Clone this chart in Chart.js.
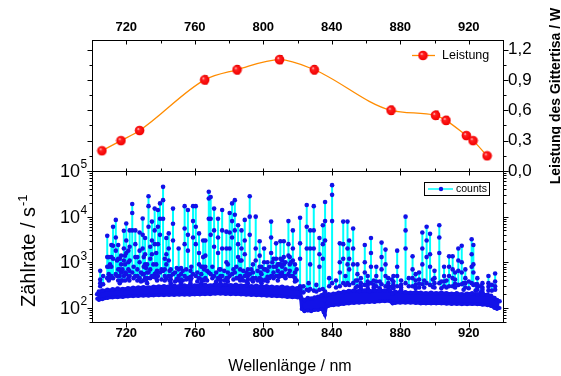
<!DOCTYPE html>
<html>
<head>
<meta charset="utf-8">
<script src="https://cdn.jsdelivr.net/npm/chart.js@4.4.1/dist/chart.umd.min.js"></script>
<style>
  html, body { margin: 0; padding: 0; background: #fff; }
  #wrap { position: relative; width: 561px; height: 376px; overflow: hidden; }
  #wrap canvas { position: absolute; left: 0; top: 0; }
</style>
</head>
<body>
<div id="wrap">
  <canvas id="powerChart" width="561" height="376"></canvas>
  <canvas id="countsChart" width="561" height="376"></canvas>
</div>
<script>
// --- upper panel: Leistung des Gittertisa ---
const powerNm  = [705.8, 716.9, 727.8, 765.8, 784.7, 809.5, 829.8, 874.6, 900.6, 906.7, 918.6, 922.5, 930.7];
const powerW   = [0.20, 0.30, 0.40, 0.90, 1.00, 1.10, 1.00, 0.60, 0.55, 0.50, 0.35, 0.30, 0.15];
const powerErr = [0.02, 0.02, 0.02, 0.04, 0.04, 0.04, 0.04, 0.04, 0.04, 0.04, 0.02, 0.02, 0.02];

// --- lower panel: counts spectrum, lines ---
const peakNm = [
  704.8, 708.9, 709.8, 711.3, 712.3, 713.9, 715.3, 716.2, 717.0, 718.6,
  719.3, 720.0, 721.2, 722.0, 723.5, 725.3, 726.5, 727.8, 729.6, 730.2,
  731.0, 732.2, 733.0, 734.0, 735.0, 736.6, 737.5, 738.5, 739.7, 741.5,
  742.5, 743.4, 744.8, 746.0, 747.3, 750.6, 752.0, 754.1, 756.0, 757.5,
  759.0, 760.6, 762.5, 763.8, 764.9, 766.2, 768.2, 769.3, 771.3, 773.6,
  775.0, 776.0, 778.5, 779.3, 780.4, 781.8, 783.4, 785.3, 786.5, 787.3,
  789.2, 791.0, 792.1, 794.0, 795.6, 797.9, 799.0, 800.5, 802.5, 804.6,
  806.0, 807.5, 808.5, 810.0, 811.0, 812.0, 813.0, 814.7, 815.5, 817.3,
  818.5, 821.5, 825.4, 827.4, 829.5, 832.8, 834.8, 836.1, 840.2, 844.7,
  846.7, 849.2, 850.2, 852.5, 855.0, 857.0, 859.3, 861.0, 862.9, 864.5,
  866.0, 869.1, 871.4, 873.0, 876.0, 878.2, 880.5, 883.1, 887.2, 889.0,
  891.0, 892.9, 895.4, 897.4, 900.0, 902.8, 905.6, 908.5, 910.6, 912.0,
  913.9, 915.9, 918.0, 921.7, 922.7, 925.0, 928.0, 931.5, 935.4
];
const peakTop = [
  650, 3800, 1300, 2400, 6000, 8500, 2400, 1200, 1400, 4900,
  1400, 7100, 1800, 5000, 19000, 5000, 1300, 4500, 9100, 1300,
  3400, 900, 28000, 2200, 7800, 15000, 1600, 14000, 19500, 45000,
  1200, 3400, 4300, 700, 15000, 2000, 750, 17000, 14000, 650,
  17000, 17000, 4300, 800, 3000, 3000, 35000, 27000, 15000, 9000,
  700, 14000, 4700, 900, 12000, 19500, 23000, 6500, 1100, 5000,
  8500, 700, 28000, 900, 10000, 2900, 800, 2000, 1000, 7800,
  1200, 2600, 900, 2900, 1100, 2900, 1000, 8000, 1300, 5000,
  900, 9500, 18000, 5000, 17000, 3400, 6500, 21000, 49000, 2600,
  7800, 7800, 3000, 5500, 900, 450, 2400, 500, 3400, 400,
  800, 2700, 1900, 450, 500, 1800, 400, 10000, 1350, 550,
  600, 4500, 6000, 4200, 650, 6500, 800, 1350, 1350, 600,
  2000, 2300, 700, 3200, 2400, 450, 350, 500, 570
];
const peakMid = [
  420, 1300, 800, 1300, 2300, 3500, 1200, 700, 900, 2000,
  900, 3000, 1000, 2200, 12000, 2500, 700, 1800, 4000, 800,
  1500, 600, 17000, 1200, 3000, 5000, 900, 6000, 9000, 23000,
  700, 1500, 2000, 500, 7000, 700, 550, 5500, 4000, 480,
  8000, 6000, 1600, 550, 1300, 1400, 25000, 9000, 5000, 3500,
  500, 5000, 2000, 600, 4500, 8000, 11000, 2500, 700, 2000,
  3000, 500, 10000, 600, 2000, 1400, 550, 1000, 650, 3500,
  800, 1200, 650, 1200, 800, 1300, 700, 2500, 900, 2000,
  600, 2600, 6000, 2000, 5000, 1500, 2500, 8000, 30000, 1000,
  2500, 2000, 1200, 2000, 550, 350, 1000, 380, 1600, 320,
  500, 1300, 900, 350, 380, 800, 320, 5000, 700, 400,
  420, 2000, 3000, 1500, 450, 3500, 500, 800, 700, 420,
  1100, 1000, 450, 1500, 900, 330, 280, 350, 380
];
const peakMid2 = [
  350, 800, 550, 800, 1200, 1800, 700, 500, 600, 1100,
  600, 1600, 700, 1100, 5000, 1300, 500, 1000, 2000, 550,
  900, 450, 6000, 700, 1500, 2500, 600, 2500, 4000, 9000,
  500, 900, 1100, 420, 3000, 500, 420, 2500, 1800, 400,
  3500, 2500, 900, 420, 800, 800, 9000, 4000, 2200, 1600,
  420, 2000, 1000, 450, 2000, 3500, 5000, 1300, 500, 1100,
  1500, 420, 4000, 450, 1100, 800, 420, 700, 480, 1600,
  600, 800, 500, 900, 600, 900, 500, 1400, 650, 1100,
  450, 1200, 2000, 900, 2000, 800, 1200, 3000, 8000, 600,
  1200, 900, 700, 900, 400, 300, 600, 320, 800, 280,
  380, 700, 500, 300, 320, 500, 280, 2000, 450, 320,
  340, 900, 1300, 800, 350, 1600, 380, 500, 450, 340,
  650, 600, 350, 800, 600, 290, 250, 290, 300
];
const peakLow = [
  300, 450, 400, 500, 450, 550, 400, 350, 400, 500,
  400, 550, 450, 500, 600, 500, 400, 450, 550, 400,
  450, 350, 600, 450, 500, 550, 450, 500, 600, 650,
  400, 450, 500, 350, 550, 400, 350, 500, 450, 350,
  550, 500, 450, 350, 400, 450, 600, 550, 500, 450,
  350, 500, 450, 380, 500, 550, 600, 450, 400, 450,
  500, 350, 550, 380, 450, 450, 350, 400, 380, 500,
  450, 500, 400, 550, 500, 500, 450, 550, 500, 500,
  380, 300, 250, 260, 240, 250, 260, 230, 350, 300,
  350, 350, 320, 350, 300, 260, 320, 270, 350, 250,
  300, 330, 300, 260, 270, 300, 250, 350, 300, 270,
  280, 330, 350, 320, 280, 350, 300, 300, 300, 280,
  320, 330, 280, 350, 320, 250, 220, 240, 250
];

// small bumps just above the noise floor
const bumpNm = [
  706.5, 710.5, 714.6, 717.8, 721.8, 724.3, 728.6, 731.6, 735.8, 738.0,
  740.6, 745.3, 748.5, 749.5, 753.0, 755.0, 758.0, 761.5, 765.5, 767.2,
  770.3, 772.5, 774.3, 777.2, 782.6, 784.3, 788.3, 790.2, 793.0, 796.7,
  798.5, 801.5, 803.5, 805.3, 809.2, 816.2, 819.5, 823.5, 826.5, 831.0,
  838.5, 842.5, 848.0, 854.0, 868.0, 875.0, 885.0, 894.0, 899.0, 904.0,
  907.0, 917.0, 920.0, 924.0, 927.0, 933.5
];
const bumpTop = [
  500, 900, 1100, 700, 650, 800, 600, 750, 900, 650,
  700, 650, 600, 750, 650, 700, 800, 600, 700, 650,
  800, 600, 700, 650, 700, 800, 650, 600, 700, 650,
  600, 700, 800, 1000, 900, 1000, 700, 300, 350, 320,
  450, 400, 500, 400, 380, 420, 450, 400, 420, 380,
  400, 350, 380, 330, 300, 320
];
const bumpLow = [
  330, 450, 500, 400, 400, 450, 380, 420, 480, 400,
  420, 400, 380, 430, 400, 420, 450, 380, 420, 400,
  450, 380, 420, 400, 420, 450, 400, 380, 420, 400,
  380, 420, 450, 500, 480, 500, 400, 220, 240, 230,
  300, 280, 320, 280, 270, 290, 300, 280, 290, 270,
  280, 250, 270, 240, 220, 240
];

// noise floor: lower and upper edge of the dense band
const baseNm = [
  703, 704, 706, 709, 712, 715, 718, 721, 724, 727,
  730, 733, 736, 739, 742, 745, 748, 751, 754, 757,
  760, 763, 766, 769, 772, 775, 778, 781, 784, 787,
  790, 793, 796, 799, 802, 805, 808, 811, 814, 817,
  820, 821.8, 822.4, 824, 826, 828, 830, 832, 834, 835.3,
  836, 836.8, 838, 841, 844, 847, 850, 853, 856, 859,
  862, 865, 868, 871, 874, 875.5, 877, 880, 883, 886,
  889, 892, 895, 898, 901, 904, 907, 910, 913, 916,
  919, 922, 925, 928, 931, 933, 935, 936.5, 938
];
const baseLow = [
  160, 150, 155, 165, 170, 172, 175, 178, 180, 182,
  185, 185, 188, 190, 190, 192, 192, 195, 195, 195,
  198, 198, 200, 200, 205, 205, 202, 200, 200, 198,
  195, 192, 190, 188, 185, 182, 180, 178, 175, 172,
  170, 165, 95, 85, 88, 85, 90, 90, 95, 80,
  70, 105, 110, 115, 118, 122, 125, 128, 130, 132,
  135, 135, 138, 140, 140, 125, 128, 130, 130, 130,
  128, 125, 125, 125, 125, 125, 123, 122, 122, 120,
  120, 122, 120, 118, 115, 110, 100, 95, 100
];
const baseHigh = [
  200, 230, 240, 250, 255, 265, 260, 270, 275, 280,
  285, 280, 290, 295, 300, 295, 305, 300, 310, 305,
  310, 315, 320, 310, 330, 320, 325, 315, 320, 310,
  310, 300, 305, 295, 300, 290, 285, 290, 280, 275,
  270, 260, 160, 150, 165, 160, 170, 175, 190, 200,
  150, 190, 200, 205, 215, 225, 235, 240, 235, 240,
  235, 240, 245, 240, 240, 210, 225, 225, 220, 215,
  220, 215, 210, 215, 210, 215, 210, 205, 210, 200,
  205, 210, 200, 200, 195, 185, 165, 150, 140
];

// axis ticks
const nmTicks    = [720, 760, 800, 840, 880, 920];
const nmMinor    = [740, 780, 820, 860, 900];
const powerTicks = [0, 0.3, 0.6, 0.9, 1.2];
const powerMinor = [0.15, 0.45, 0.75, 1.05];
const countTicks = [100, 1000, 10000, 100000];
const countExp   = ['2', '3', '4', '5'];
const countMinor = [50, 60, 70, 80, 90, 200, 300, 400, 500, 600, 700, 800, 900,
                    2000, 3000, 4000, 5000, 6000, 7000, 8000, 9000,
                    20000, 30000, 40000, 50000, 60000, 70000, 80000, 90000];

const FONT = '"Liberation Sans", Arial, sans-serif';
Chart.defaults.font.family = FONT;
Chart.defaults.color = '#000';

const BLUE = '#1212e8';
const CYAN = '#00ffff';
const ORANGE = '#ff8c00';

function makeBall(r) {
  const c = document.createElement('canvas');
  const s = Math.ceil(r * 2) + 1;
  c.width = s; c.height = s;
  const g = c.getContext('2d');
  const cx = s / 2, cy = s / 2;
  const grad = g.createRadialGradient(cx - r * 0.3, cy - r * 0.35, r * 0.05, cx, cy, r);
  grad.addColorStop(0, '#ffd8d8');
  grad.addColorStop(0.25, '#ff2020');
  grad.addColorStop(1, '#f20000');
  g.fillStyle = grad;
  g.beginPath(); g.arc(cx, cy, r, 0, Math.PI * 2); g.fill();
  return c;
}
const ball = makeBall(4.8);

// frame + tick marks (len > 0 goes to +x / +y)
const frameTicks = {
  id: 'frameTicks',
  afterDraw(chart, args, opts) {
    const {ctx, chartArea: a} = chart;
    ctx.save();
    ctx.strokeStyle = '#000';
    ctx.lineWidth = 1;
    ctx.strokeRect(a.left + 0.5, a.top + 0.5, a.right - a.left, a.bottom - a.top);
    ctx.beginPath();
    opts.marks.forEach(m => {
      const sc = chart.scales[m.scale];
      m.values.forEach(v => {
        const p = Math.round(sc.getPixelForValue(v)) + 0.5;
        if (m.edge === 'top')    { ctx.moveTo(p, a.top + 0.5);    ctx.lineTo(p, a.top + 0.5 + m.len); }
        if (m.edge === 'bottom') { ctx.moveTo(p, a.bottom + 0.5); ctx.lineTo(p, a.bottom + 0.5 + m.len); }
        if (m.edge === 'left')   { ctx.moveTo(a.left + 0.5, p);   ctx.lineTo(a.left + 0.5 + m.len, p); }
        if (m.edge === 'right')  { ctx.moveTo(a.right + 0.5, p);  ctx.lineTo(a.right + 0.5 + m.len, p); }
      });
    });
    ctx.stroke();
    ctx.restore();
  }
};

// ---------- upper chart ----------
const powerExtras = {
  id: 'powerExtras',
  beforeDatasetsDraw(chart) {
    const {ctx, scales: {x, y}} = chart;
    ctx.save();
    ctx.strokeStyle = '#d00000';
    ctx.lineWidth = 1.3;
    ctx.beginPath();
    powerNm.forEach((nm, i) => {
      const px = Math.round(x.getPixelForValue(nm)) + 0.5;
      const y1 = y.getPixelForValue(powerW[i] + powerErr[i]);
      const y2 = y.getPixelForValue(powerW[i] - powerErr[i]);
      ctx.moveTo(px, y1); ctx.lineTo(px, y2);
      ctx.moveTo(px - 2, y1); ctx.lineTo(px + 2, y1);
      ctx.moveTo(px - 2, y2); ctx.lineTo(px + 2, y2);
    });
    ctx.stroke();
    ctx.restore();
  },
  afterDraw(chart) {
    const ctx = chart.ctx;
    const ds = chart.data.datasets[0];
    ctx.save();
    // legend
    ctx.strokeStyle = ds.borderColor;
    ctx.lineWidth = 1.3;
    ctx.beginPath(); ctx.moveTo(412, 55.5); ctx.lineTo(435, 55.5); ctx.stroke();
    ctx.drawImage(ball, 423 - ball.width / 2, 55.5 - ball.height / 2);
    ctx.fillStyle = '#000';
    ctx.font = '12.5px ' + FONT;
    ctx.textAlign = 'left';
    ctx.textBaseline = 'middle';
    ctx.fillText(ds.label, 442, 56);
    // right axis title
    ctx.translate(560, 96);
    ctx.rotate(-Math.PI / 2);
    ctx.font = 'bold 14px ' + FONT;
    ctx.textAlign = 'center';
    ctx.textBaseline = 'alphabetic';
    ctx.fillText('Leistung des Gittertisa / W', 0, 0);
    ctx.restore();
  }
};

new Chart(document.getElementById('powerChart'), {
  type: 'line',
  data: {
    datasets: [{
      label: 'Leistung',
      data: powerNm.map((nm, i) => ({x: nm, y: powerW[i]})),
      borderColor: ORANGE,
      borderWidth: 1.3,
      cubicInterpolationMode: 'monotone',
      pointStyle: ball,
      pointRadius: 5,
      clip: false
    }]
  },
  options: {
    responsive: false,
    animation: false,
    events: [],
    layout: { padding: { left: 92, right: 0, top: 0, bottom: 205 } },
    plugins: {
      legend: { display: false },
      tooltip: { enabled: false },
      frameTicks: {
        marks: [
          { scale: 'x', edge: 'top', values: nmTicks, len: 4 },
          { scale: 'x', edge: 'top', values: nmMinor, len: 3 },
          { scale: 'x', edge: 'bottom', values: nmTicks, len: -3 },
          { scale: 'x', edge: 'bottom', values: nmMinor, len: -3 },
          { scale: 'y', edge: 'right', values: powerTicks, len: 5 },
          { scale: 'y', edge: 'right', values: powerMinor, len: 3 },
          { scale: 'y', edge: 'left', values: powerTicks, len: -5 },
          { scale: 'y', edge: 'left', values: powerMinor, len: -3 }
        ]
      }
    },
    scales: {
      x: {
        type: 'linear',
        position: 'top',
        min: 700, max: 940,
        afterBuildTicks: s => { s.ticks = nmTicks.map(v => ({value: v})); },
        afterFit: s => { s.height = 40; },
        grid: { display: false, drawTicks: false },
        border: { display: false },
        ticks: { font: { size: 13, weight: 'bold' }, padding: 5, maxRotation: 0 }
      },
      y: {
        type: 'linear',
        position: 'right',
        min: 0, max: 1.294,
        afterBuildTicks: s => { s.ticks = powerTicks.map(v => ({value: v})); },
        afterFit: s => { s.width = 58; },
        grid: { display: false, drawTicks: false },
        border: { display: false },
        ticks: {
          font: { size: 17 },
          padding: 5,
          callback: v => v.toFixed(1).replace('.', ',')
        }
      }
    }
  },
  plugins: [powerExtras, frameTicks]
});

// ---------- lower chart ----------
const spikePoints = [];
peakNm.forEach((nm, i) => {
  spikePoints.push(
    {x: nm, y: peakLow[i]}, {x: nm, y: peakMid2[i]}, {x: nm, y: peakMid[i]},
    {x: nm, y: peakTop[i]}, {x: nm, y: null});
});
bumpNm.forEach((nm, i) => {
  spikePoints.push({x: nm, y: bumpLow[i]}, {x: nm, y: bumpTop[i]}, {x: nm, y: null});
});

const countsExtras = {
  id: 'countsExtras',
  afterDraw(chart) {
    const {ctx, scales: {y}} = chart;
    const ds = chart.data.datasets[0];
    ctx.save();
    ctx.fillStyle = '#000';
    // log tick labels 10^n
    countTicks.forEach((v, i) => {
      const py = y.getPixelForValue(v);
      ctx.font = '18px ' + FONT;
      ctx.textAlign = 'right';
      ctx.textBaseline = 'middle';
      ctx.fillText('10', 80, py + 1);
      ctx.font = '12px ' + FONT;
      ctx.textAlign = 'left';
      ctx.fillText(countExp[i], 80.5, py - 6);
    });
    // x title
    ctx.font = '16px ' + FONT;
    ctx.textAlign = 'center';
    ctx.textBaseline = 'alphabetic';
    ctx.fillText('Wellenlänge / nm', 290, 371);
    // legend
    ctx.strokeStyle = '#000';
    ctx.lineWidth = 1;
    ctx.strokeRect(424.5, 182.5, 65, 13);
    ctx.strokeStyle = ds.borderColor;
    ctx.lineWidth = 1.5;
    ctx.beginPath(); ctx.moveTo(428, 189); ctx.lineTo(453, 189); ctx.stroke();
    ctx.fillStyle = ds.pointBackgroundColor;
    ctx.beginPath(); ctx.arc(441, 189, 2.2, 0, Math.PI * 2); ctx.fill();
    ctx.fillStyle = '#000';
    ctx.font = '10.5px ' + FONT;
    ctx.textAlign = 'left';
    ctx.textBaseline = 'middle';
    ctx.fillText(ds.label, 456, 189);
    // y title with superscript
    ctx.translate(35, 307);
    ctx.rotate(-Math.PI / 2);
    ctx.font = '20px ' + FONT;
    ctx.textAlign = 'left';
    ctx.textBaseline = 'alphabetic';
    const main = 'Zählrate / s';
    ctx.fillText(main, 0, 0);
    const w = ctx.measureText(main).width;
    ctx.font = '13px ' + FONT;
    ctx.fillText('-1', w + 1, -8);
    ctx.restore();
  }
};

new Chart(document.getElementById('countsChart'), {
  type: 'line',
  data: {
    datasets: [
      {
        label: 'counts',
        data: spikePoints,
        borderColor: CYAN,
        borderWidth: 2,
        pointRadius: 2.3,
        pointBackgroundColor: BLUE,
        pointBorderWidth: 0,
        spanGaps: false,
        tension: 0,
        order: 2
      },
      {
        label: 'floor low',
        data: baseNm.map((nm, i) => ({x: nm, y: baseLow[i]})),
        borderColor: BLUE,
        borderWidth: 3,
        pointRadius: 2,
        pointBackgroundColor: BLUE,
        pointBorderWidth: 0,
        fill: false,
        tension: 0,
        order: 1
      },
      {
        label: 'floor high',
        data: baseNm.map((nm, i) => ({x: nm, y: baseHigh[i]})),
        borderColor: BLUE,
        borderWidth: 3,
        pointRadius: 2.3,
        pointBackgroundColor: BLUE,
        pointBorderWidth: 0,
        backgroundColor: BLUE,
        fill: '-1',
        tension: 0,
        order: 1
      }
    ]
  },
  options: {
    responsive: false,
    animation: false,
    events: [],
    layout: { padding: { left: 0, right: 58, top: 171, bottom: 0 } },
    plugins: {
      legend: { display: false },
      tooltip: { enabled: false },
      frameTicks: {
        marks: [
          { scale: 'x', edge: 'bottom', values: nmTicks, len: 5 },
          { scale: 'x', edge: 'bottom', values: nmMinor, len: 3 },
          { scale: 'x', edge: 'top', values: nmTicks, len: 4 },
          { scale: 'y', edge: 'left', values: countTicks, len: -5 },
          { scale: 'y', edge: 'left', values: countMinor, len: -3 },
          { scale: 'y', edge: 'right', values: countTicks, len: 5 },
          { scale: 'y', edge: 'right', values: countMinor, len: 3 }
        ]
      }
    },
    scales: {
      x: {
        type: 'linear',
        position: 'bottom',
        min: 700, max: 940,
        afterBuildTicks: s => { s.ticks = nmTicks.map(v => ({value: v})); },
        afterFit: s => { s.height = 54; },
        grid: { display: false, drawTicks: false },
        border: { display: false },
        ticks: { font: { size: 13, weight: 'bold' }, padding: 4, maxRotation: 0 }
      },
      y: {
        type: 'logarithmic',
        position: 'left',
        min: 49.3, max: 100000,
        afterBuildTicks: s => { s.ticks = countTicks.map(v => ({value: v})); },
        afterFit: s => { s.width = 92; },
        grid: { display: false, drawTicks: false },
        border: { display: false },
        ticks: { display: false }
      }
    }
  },
  plugins: [countsExtras, frameTicks]
});
</script>
</body>
</html>
